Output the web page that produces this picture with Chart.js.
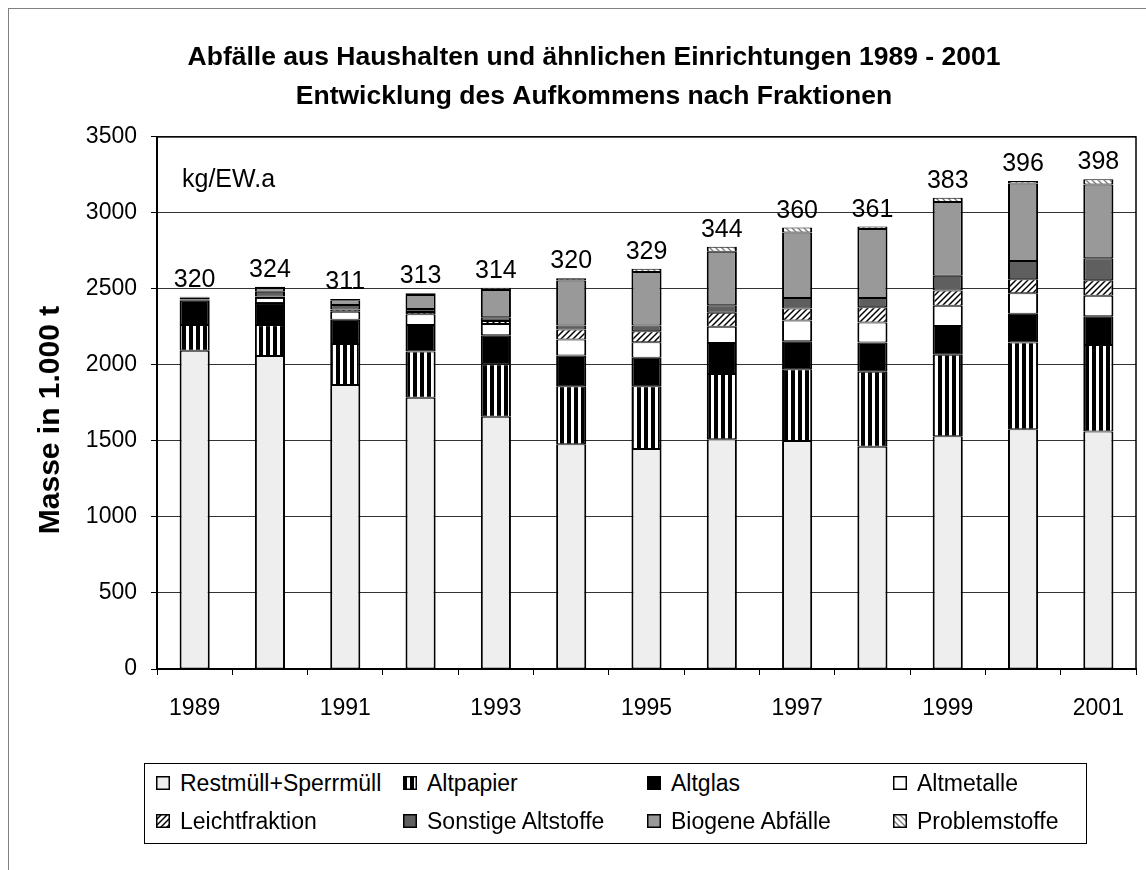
<!DOCTYPE html>
<html lang="de">
<head>
<meta charset="utf-8">
<title>Abfälle aus Haushalten 1989 - 2001</title>
<script src="https://cdn.jsdelivr.net/npm/chart.js@4.4.1/dist/chart.umd.min.js"></script>
<style>
  html, body { margin: 0; padding: 0; background: #fff; overflow: hidden; }
  body { width: 1146px; height: 870px; position: relative; font-family: "Liberation Sans", Arial, sans-serif; }
  #frame { position: absolute; left: 8px; top: 8px; width: 1200px; height: 900px; border: 1px solid #808080; }
  #chart { position: absolute; left: 0; top: 0; }
  #legend {
    position: absolute; left: 144px; top: 763px; width: 943px; height: 81px;
    border: 1px solid #000; box-sizing: border-box; padding-left: 11px;
    display: grid; grid-template-columns: 247px 244px 246px 1fr; grid-auto-rows: 38px;
    font-size: 23px; color: #000; background: #fff;
  }
  .item { display: flex; align-items: center; white-space: nowrap; }
  .item canvas { width: 14px; height: 14px; margin-right: 10px; }
</style>
</head>
<body>
<div id="frame"></div>
<canvas id="chart" width="1146" height="870"></canvas>
<div id="legend"></div>
<script>
// Jahre (Kategorien) und Pro-Kopf-Werte über den Säulen
const years = ['1989', '1990', '1991', '1992', '1993', '1994', '1995', '1996', '1997', '1998', '1999', '2000', '2001'];
const perCapita = [320, 324, 311, 313, 314, 320, 329, 344, 360, 361, 383, 396, 398];

// Fraktionen in 1.000 t (von unten nach oben gestapelt)
const restmuell = [2093, 2059, 1868, 1784, 1659, 1478, 1447, 1511, 1500, 1462, 1531, 1577, 1563];
const altpapier = [169, 203, 269, 304, 345, 382, 413, 429, 471, 494, 536, 571, 569];
const altglas = [161, 145, 160, 174, 192, 202, 187, 204, 185, 192, 189, 189, 189];
const altmetalle = [8, 34, 53, 71, 73, 105, 102, 107, 137, 131, 134, 134, 134];
const leichtfraktion = [0, 10, 15, 15, 20, 66, 73, 93, 78, 100, 100, 93, 102];
const sonstige = [12, 30, 30, 20, 24, 27, 38, 49, 69, 62, 97, 120, 145];
const biogen = [0, 25, 30, 92, 180, 296, 351, 351, 431, 453, 485, 510, 485];
const problemstoffe = [5, 9, 9, 12, 15, 15, 22, 34, 33, 16, 27, 16, 35];

const yTicks = [0, 500, 1000, 1500, 2000, 2500, 3000, 3500];

const FONT = '"Liberation Sans", Arial, sans-serif';
Chart.defaults.font.family = FONT;
Chart.defaults.color = '#000';

// Muster für die schraffierten Fraktionen
function makePattern(w, h, draw) {
  const c = document.createElement('canvas');
  c.width = w;
  c.height = h;
  const g = c.getContext('2d');
  draw(g, w, h);
  return g.createPattern(c, 'repeat');
}

const vertStripes = makePattern(7, 7, (g) => {
  g.fillStyle = '#fff';
  g.fillRect(0, 0, 7, 7);
  g.fillStyle = '#000';
  g.fillRect(0, 0, 4, 7);
});

function diagonal(color, width, forward) {
  return makePattern(6, 6, (g) => {
    g.fillStyle = '#fff';
    g.fillRect(0, 0, 6, 6);
    g.strokeStyle = color;
    g.lineWidth = width;
    g.beginPath();
    if (forward) {
      g.moveTo(0, 6); g.lineTo(6, 0);
      g.moveTo(-1, 1); g.lineTo(1, -1);
      g.moveTo(5, 7); g.lineTo(7, 5);
    } else {
      g.moveTo(0, 0); g.lineTo(6, 6);
      g.moveTo(5, -1); g.lineTo(7, 1);
      g.moveTo(-1, 5); g.lineTo(1, 7);
    }
    g.stroke();
  });
}

const series = [
  { label: 'Restmüll+Sperrmüll', data: restmuell, fill: '#eeeeee' },
  { label: 'Altpapier', data: altpapier, fill: vertStripes },
  { label: 'Altglas', data: altglas, fill: '#000000' },
  { label: 'Altmetalle', data: altmetalle, fill: '#ffffff' },
  { label: 'Leichtfraktion', data: leichtfraktion, fill: diagonal('#000', 1.5, true) },
  { label: 'Sonstige Altstoffe', data: sonstige, fill: '#5f5f5f' },
  { label: 'Biogene Abfälle', data: biogen, fill: '#999999' },
  { label: 'Problemstoffe', data: problemstoffe, fill: diagonal('#777', 1.3, false) }
];

// Beschriftungen, Achsentitel und Rahmen der Zeichenfläche
const extras = {
  id: 'extras',
  afterDatasetsDraw(chart) {
    const { ctx, chartArea, scales: { x, y } } = chart;
    ctx.save();
    ctx.fillStyle = '#000';

    ctx.font = '25px ' + FONT;
    ctx.textAlign = 'center';
    ctx.textBaseline = 'alphabetic';
    years.forEach((yr, i) => {
      const total = chart.data.datasets.reduce((s, ds) => s + ds.data[i], 0);
      ctx.fillText(String(perCapita[i]), x.getPixelForValue(i), y.getPixelForValue(total) - 10);
    });

    ctx.textAlign = 'left';
    ctx.fillText('kg/EW.a', chartArea.left + 25, chartArea.top + 50);

    ctx.strokeStyle = '#000';
    ctx.lineWidth = 1.5;
    ctx.strokeRect(chartArea.left, chartArea.top, chartArea.right - chartArea.left, chartArea.bottom - chartArea.top);

    ctx.translate(51, 420);
    ctx.rotate(-Math.PI / 2);
    ctx.font = 'bold 30px ' + FONT;
    ctx.textAlign = 'center';
    ctx.textBaseline = 'middle';
    ctx.fillText('Masse in 1.000 t', 0, 0);
    ctx.restore();
  }
};

const chart = new Chart(document.getElementById('chart'), {
  type: 'bar',
  data: {
    labels: years,
    datasets: series.map(s => ({
      label: s.label,
      data: s.data,
      backgroundColor: s.fill,
      borderColor: '#000',
      borderWidth: { top: 1, bottom: 1, left: 2, right: 2 },
      borderSkipped: false,
      categoryPercentage: 1,
      barPercentage: 0.4,
      stack: 'total'
    }))
  },
  options: {
    responsive: false,
    animation: false,
    devicePixelRatio: 1,
    layout: { padding: { left: 52, right: 10, top: 0, bottom: 151 } },
    plugins: {
      legend: { display: false },
      tooltip: { enabled: false },
      title: {
        display: true,
        text: ['Abfälle aus Haushalten und ähnlichen Einrichtungen 1989 - 2001',
               'Entwicklung des Aufkommens nach Fraktionen'],
        color: '#000',
        font: { size: 26.5, weight: 'bold', lineHeight: 1.47 },
        padding: { top: 38, bottom: 21 }
      }
    },
    scales: {
      x: {
        stacked: true,
        grid: { display: true, drawOnChartArea: false, offset: true, tickLength: 6, color: '#000' },
        border: { display: true, color: '#000', width: 2 },
        ticks: {
          autoSkip: false,
          maxRotation: 0,
          padding: 20,
          font: { size: 23 },
          color: '#000',
          callback: (v, i) => (i % 2 === 0 ? years[i] : '')
        },
        afterFit(scale) { scale.height = 50; }
      },
      y: {
        stacked: true,
        min: yTicks[0],
        max: yTicks[yTicks.length - 1],
        ticks: {
          stepSize: 500,
          padding: 14,
          font: { size: 23 },
          color: '#000',
          callback: (v) => String(v)
        },
        grid: { color: '#333', lineWidth: 1, tickLength: 6, tickColor: '#000' },
        border: { color: '#000', width: 2 },
        afterFit(scale) { scale.width = 105; }
      }
    }
  },
  plugins: [extras]
});

// Legende als HTML-Raster (4 Spalten, 2 Zeilen)
const legendEl = document.getElementById('legend');
series.forEach(s => {
  const item = document.createElement('div');
  item.className = 'item';
  const sw = document.createElement('canvas');
  sw.width = 14;
  sw.height = 14;
  const g = sw.getContext('2d');
  g.fillStyle = s.fill;
  g.fillRect(0, 0, 14, 14);
  g.strokeStyle = '#000';
  g.lineWidth = 1.5;
  g.strokeRect(0.75, 0.75, 12.5, 12.5);
  item.appendChild(sw);
  item.appendChild(document.createTextNode(s.label));
  legendEl.appendChild(item);
});
</script>
</body>
</html>
